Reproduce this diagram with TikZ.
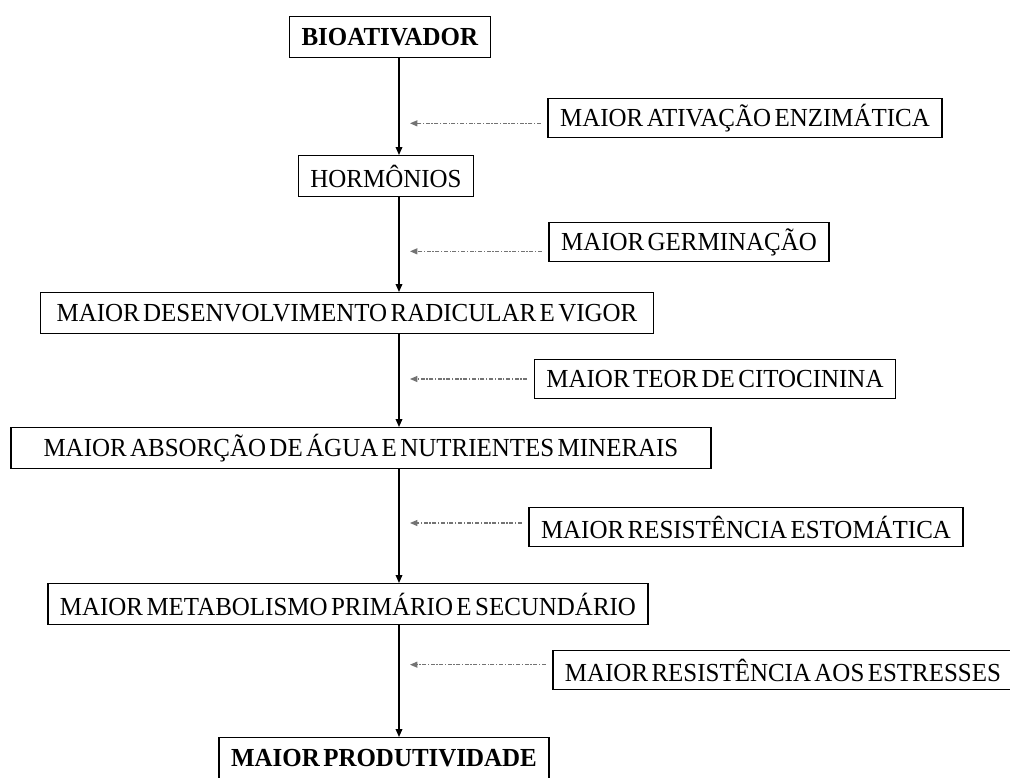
\documentclass[tikz,border=0pt]{standalone}
\usepackage{fontspec}
\setmainfont{Liberation Serif}[WordSpace=0.55, FakeStretch=0.96]
\usetikzlibrary{arrows.meta}

\begin{document}
\begin{tikzpicture}[
  x=0.75pt, y=-0.75pt,
  stagebox/.style={rectangle, draw=black, line width=1pt, minimum height=30.5pt, inner xsep=9pt, inner ysep=0pt, font=\fontsize{19.5}{22}\selectfont},
  effectbox/.style={stagebox, minimum height=29pt},
  flow/.style={-{Triangle[length=6pt,width=5pt]}, line width=1pt, color=black},
  hint/.style={-{Triangle[length=5.5pt,width=4.5pt]}, line width=0.8pt, color=black!55, dash pattern=on 3pt off 1.2pt on 1pt off 1.2pt}
]
\useasboundingbox (0,0) rectangle (1010,778);

% main chain
\node[stagebox] (bio) at (390,37) {\textbf{BIOATIVADOR}};
\node[stagebox] (horm) at (386,176) {HORMÔNIOS};
\node[stagebox, minimum width=460pt] (desenv) at (347,313) {MAIOR DESENVOLVIMENTO RADICULAR E VIGOR};
\node[stagebox, minimum width=525pt] (absor) at (361,448) {MAIOR ABSORÇÃO DE ÁGUA E NUTRIENTES MINERAIS};
\node[stagebox] (metab) at (348,604) {MAIOR METABOLISMO PRIMÁRIO E SECUNDÁRIO};
\node[stagebox] (prod) at (384,758) {\textbf{MAIOR PRODUTIVIDADE}};

% effects on the right
\node[effectbox] (ativ) at (745,118) {MAIOR ATIVAÇÃO ENZIMÁTICA};
\node[effectbox] (germ) at (689,242) {MAIOR GERMINAÇÃO};
\node[effectbox] (teor) at (715,379) {MAIOR TEOR DE CITOCININA};
\node[effectbox] (resist) at (746,527) {MAIOR RESISTÊNCIA ESTOMÁTICA};
\node[effectbox] (estr) at (783,670) {MAIOR RESISTÊNCIA AOS ESTRESSES};

\coordinate (spine) at (399,0);
\coordinate (tip) at (410,0);

\draw[flow] (bio.south -| spine) -- (horm.north -| spine);
\draw[flow] (horm.south -| spine) -- (desenv.north -| spine);
\draw[flow] (desenv.south -| spine) -- (absor.north -| spine);
\draw[flow] (absor.south -| spine) -- (metab.north -| spine);
\draw[flow] (metab.south -| spine) -- (prod.north -| spine);

\draw[hint] ([xshift=-5pt,yshift=-4pt]ativ.west) -- ([yshift=-4pt]ativ.west -| tip);
\draw[hint] ([xshift=-5pt,yshift=-7pt]germ.west) -- ([yshift=-7pt]germ.west -| tip);
\draw[hint] ([xshift=-5pt]teor.west) -- (teor.west -| tip);
\draw[hint] ([xshift=-5pt,yshift=3pt]resist.west) -- ([yshift=3pt]resist.west -| tip);
\draw[hint] ([xshift=-5pt,yshift=4pt]estr.west) -- ([yshift=4pt]estr.west -| tip);
\end{tikzpicture}
\end{document}
